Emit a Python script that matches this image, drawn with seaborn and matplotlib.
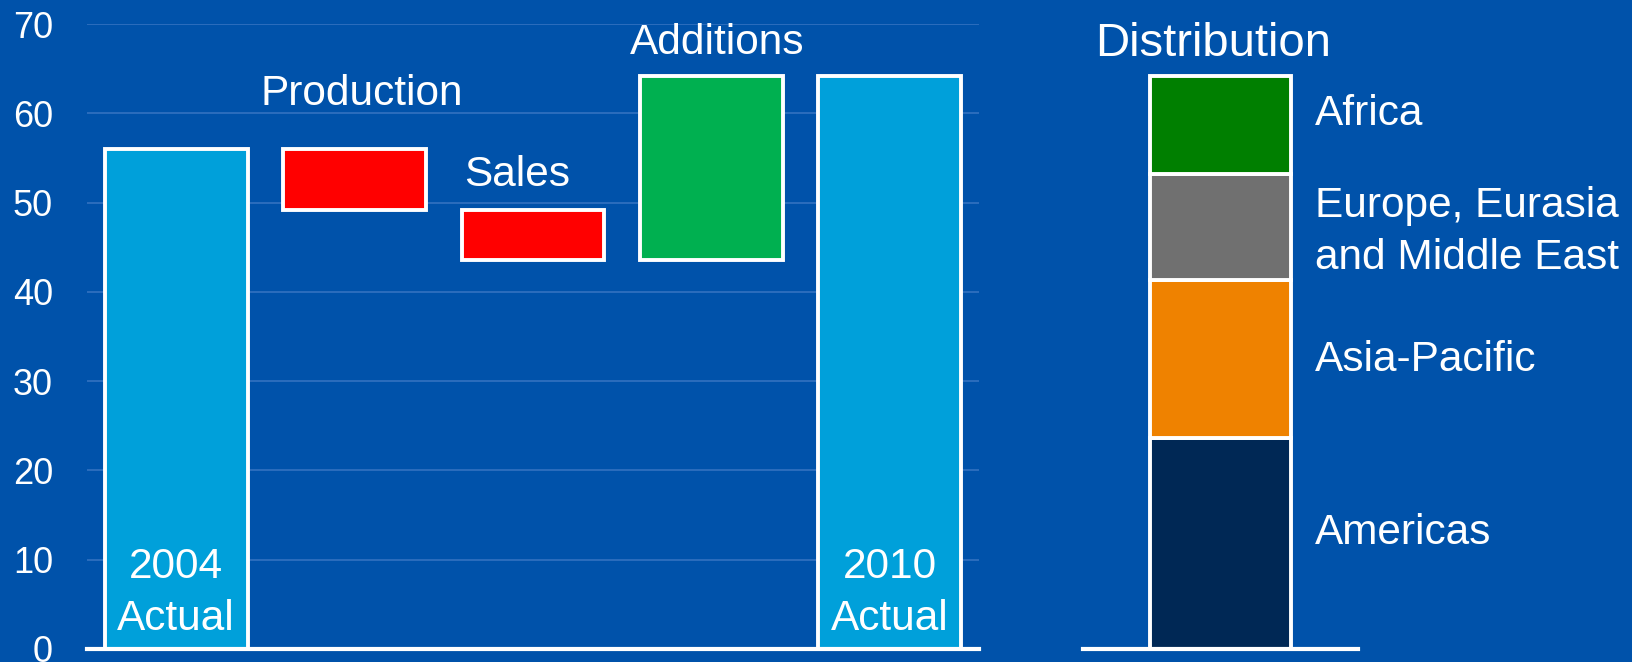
import numpy as np
import pandas as pd
import matplotlib
matplotlib.use("Agg")
import matplotlib.pyplot as plt
import seaborn as sns

# Waterfall: reserves bridge from 2004 to 2010
steps = ["2004 Actual", "Production", "Sales", "Additions", "2010 Actual"]
step_labels = ["2004\nActual", "Production", "Sales", "Additions", "2010\nActual"]
changes = [56.0, -6.8, -5.6, 20.6, None]  # None marks the closing total

# Distribution of the 2010 total by region (bottom to top)
regions = ["Americas", "Asia-Pacific", "Europe, Eurasia\nand Middle East", "Africa"]
region_values = [23.6, 17.7, 11.9, 11.0]

y_ticks = [0, 10, 20, 30, 40, 50, 60, 70]

# ---- derived waterfall geometry ----
bottoms, heights = [], []
running = 0.0
for i, c in enumerate(changes):
    if i == 0:
        bottoms.append(0.0); heights.append(c); running = c
    elif c is None:
        bottoms.append(0.0); heights.append(running)
    else:
        new = running + c
        bottoms.append(min(running, new)); heights.append(abs(c))
        running = new
wf = pd.DataFrame({"step": steps, "bottom": bottoms, "height": heights})

# ---- styling ----
BG = "#0052AA"
GRID = "#2F6FBE"
TOTAL = "#00A0DA"
DOWN = "#FF0000"
UP = "#00B050"
region_colors = ["#002855", "#EF8200", "#707070", "#007F00"]
step_colors = [TOTAL, DOWN, DOWN, UP, TOTAL]
FS = 30.5

sns.set_style("white")
plt.rcParams["font.family"] = ["Liberation Sans", "DejaVu Sans"]

fig = plt.figure(figsize=(16.32, 6.62), dpi=100, facecolor=BG)
ax = fig.add_axes([87 / 1632, 13 / 662, (979 - 87) / 1632, (649 - 24) / 662])
ax2 = fig.add_axes([1083 / 1632, 13 / 662, (1358 - 1083) / 1632, (649 - 24) / 662])

for a in (ax, ax2):
    a.set_facecolor(BG)
    for s in ("top", "left", "right"):
        a.spines[s].set_visible(False)
    a.spines["bottom"].set_color("white")
    a.spines["bottom"].set_linewidth(3)
    a.spines["bottom"].set_zorder(5)

# ---- waterfall ----
sns.barplot(data=wf, x="step", y="height", order=steps, bottom=wf["bottom"].values,
            color=TOTAL, saturation=1, width=0.8, errorbar=None, edgecolor="white",
            linewidth=2.8, ax=ax, zorder=3)
for patch, col in zip(ax.patches, step_colors):
    patch.set_facecolor(col)

ax.set_ylim(0, 70)
ax.set_xlim(-0.5, len(steps) - 0.5)
ax.set_yticks(y_ticks)
ax.set_yticklabels([str(t) for t in y_ticks], fontsize=26, color="white")
ax.tick_params(axis="y", length=0, pad=24.5)
ax.set_xticks([])
ax.set_xlabel("")
ax.set_ylabel("")
ax.set_axisbelow(True)
for t in y_ticks[1:]:
    ax.axhline(t, color=GRID, lw=1.3, zorder=1)

# labels inside the total bars (anchored on the last line's baseline)
for i in (0, len(steps) - 1):
    ax.text(i, 2.13, step_labels[i], ha="center", va="baseline", fontsize=FS,
            color="white", linespacing=1.4, zorder=6)
# labels above the floating bars
label_pos = {1: (1.04, 60.9), 2: (1.91, 51.8), 3: (3.03, 66.6)}
for i, (lx, ly) in label_pos.items():
    ax.text(lx, ly, step_labels[i], ha="center", va="baseline", fontsize=FS,
            color="white", zorder=6, clip_on=False)

# ---- distribution stack ----
cum = 0.0
nudges = [0.0, -1.3, -4.7, 0.0]
for name, val, col, nd in zip(regions, region_values, region_colors, nudges):
    sns.barplot(x=["2010"], y=[val], bottom=cum, color=col, saturation=1, width=0.8,
                errorbar=None, edgecolor="white", linewidth=2.8, ax=ax2, zorder=3)
    ax2.text(0.536, cum + val / 2 + nd, name, ha="left", va="baseline", fontsize=FS,
             color="white", linespacing=1.4, clip_on=False)
    cum += val

ax2.set_ylim(0, 70)
ax2.set_xlim(-0.78, 0.78)
ax2.set_xticks([])
ax2.set_yticks([])
ax2.set_xlabel("")
ax2.set_ylabel("")
ax2.text(-0.712, 66.4, "Distribution", ha="left", va="baseline", fontsize=34,
         color="white", clip_on=False)

fig.savefig("out.png", dpi=100, facecolor=BG)
